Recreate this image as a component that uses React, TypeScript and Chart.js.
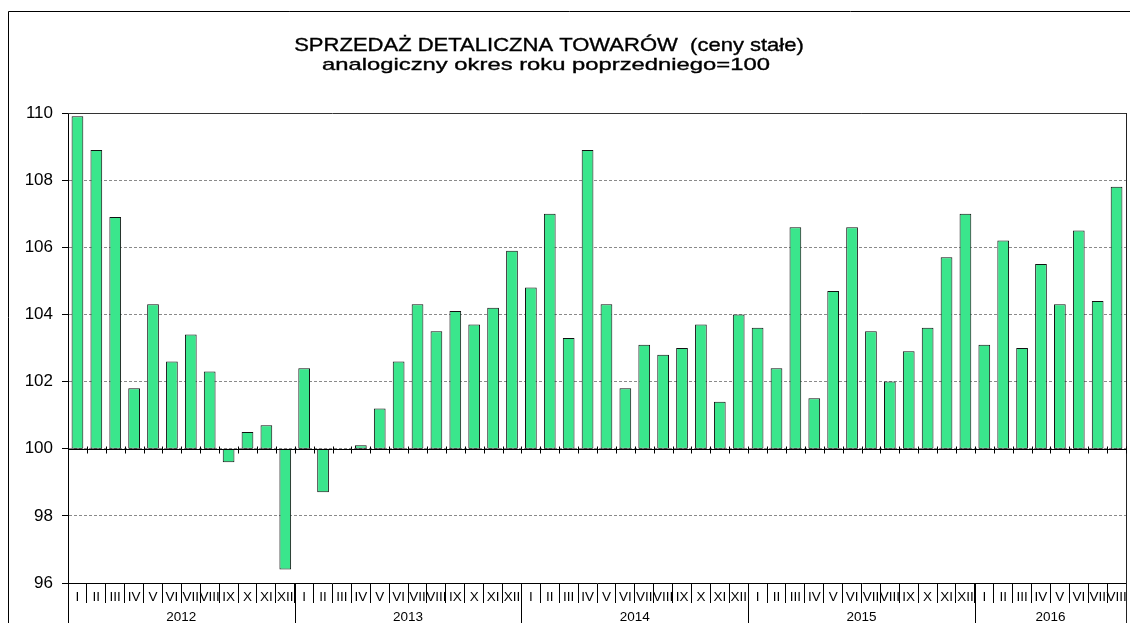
import React, { useEffect, useRef } from "react";
import { Chart, registerables } from "chart.js";

Chart.register(...registerables);

const monthLabels = ["I", "II", "III", "IV", "V", "VI", "VII", "VIII", "IX", "X", "XI", "XII"];
const years = ["2012", "2013", "2014", "2015", "2016"];

const values2012 = [109.9, 108.9, 106.9, 101.8, 104.3, 102.6, 103.4, 102.3, 99.6, 100.5, 100.7, 96.4];
const values2013 = [102.4, 98.7, 100.0, 100.1, 101.2, 102.6, 104.3, 103.5, 104.1, 103.7, 104.2, 105.9];
const values2014 = [104.8, 107.0, 103.3, 108.9, 104.3, 101.8, 103.1, 102.8, 103.0, 103.7, 101.4, 104.0];
const values2015 = [103.6, 102.4, 106.6, 101.5, 104.7, 106.6, 103.5, 102.0, 102.9, 103.6, 105.7, 107.0];
const values2016 = [103.1, 106.2, 103.0, 105.5, 104.3, 106.5, 104.4, 107.8];

const yearValues = [values2012, values2013, values2014, values2015, values2016];
const baseValue = 100;
const yMin = 96;
const yMax = 110;
const yStep = 2;

const titleLine1 = "SPRZEDAŻ DETALICZNA TOWARÓW  (ceny stałe)";
const titleLine2 = "analogiczny okres roku poprzedniego=100";

const FONT = "'Liberation Sans', Arial, Helvetica, sans-serif";

export default function App() {
  const canvasRef = useRef<HTMLCanvasElement | null>(null);

  useEffect(() => {
    const canvas = canvasRef.current;
    if (!canvas) return;

    const allValues: number[] = [];
    const labels: string[] = [];
    const yearSpans: { label: string; start: number; count: number }[] = [];
    yearValues.forEach((arr, yi) => {
      yearSpans.push({ label: years[yi], start: allValues.length, count: arr.length });
      arr.forEach((v, mi) => {
        allValues.push(v);
        labels.push(monthLabels[mi]);
      });
    });

    const drawStretched = (ctx: any, text: string, cx: number, base: number, sx: number) => {
      ctx.save();
      ctx.translate(cx, base);
      ctx.scale(sx, 1);
      ctx.fillText(text, 0, 0);
      ctx.lineWidth = 0.35;
      ctx.strokeStyle = "#000";
      ctx.strokeText(text, 0, 0);
      ctx.restore();
    };

    const decorPlugin = {
      id: "decor",
      beforeDraw(chart: any) {
        const ctx = chart.ctx;
        ctx.save();
        ctx.fillStyle = "#ffffff";
        ctx.fillRect(0, 0, chart.width, chart.height);
        ctx.restore();
      },
      afterDraw(chart: any) {
        const ctx = chart.ctx;
        const xs = chart.scales.x;
        const ys = chart.scales.y;
        const area = chart.chartArea;
        const n = labels.length;
        const w = xs.getPixelForValue(1) - xs.getPixelForValue(0);
        const boundary = (i: number) => xs.getPixelForValue(i) - w / 2;

        ctx.save();
        // outer frame
        ctx.strokeStyle = "#000";
        ctx.lineWidth = 1;
        ctx.beginPath();
        ctx.moveTo(8.5, chart.height + 2);
        ctx.lineTo(8.5, 11.5);
        ctx.lineTo(chart.width + 2, 11.5);
        ctx.stroke();

        // top line at max
        const yTop = Math.round(ys.getPixelForValue(yMax)) + 0.5;
        ctx.strokeStyle = "#333";
        ctx.beginPath();
        ctx.moveTo(area.left, yTop);
        ctx.lineTo(area.right, yTop);
        ctx.stroke();

        // right border
        const xr = Math.round(area.right) + 0.5;
        ctx.strokeStyle = "#222";
        ctx.beginPath();
        ctx.moveTo(xr, area.top);
        ctx.lineTo(xr, chart.height + 2);
        ctx.stroke();

        // base line at 100 with ticks
        const y100 = Math.round(ys.getPixelForValue(baseValue)) + 0.5;
        ctx.strokeStyle = "#000";
        ctx.beginPath();
        ctx.moveTo(area.left, y100);
        ctx.lineTo(area.right, y100);
        for (let i = 0; i <= n; i++) {
          const bx = Math.round(boundary(i)) + 0.5;
          ctx.moveTo(bx, y100 - 3);
          ctx.lineTo(bx, y100 + 4);
        }
        ctx.stroke();

        // year separators + labels
        ctx.strokeStyle = "#000";
        ctx.beginPath();
        yearSpans.forEach((sp) => {
          const bx = Math.round(boundary(sp.start)) + 0.5;
          ctx.moveTo(bx, area.bottom);
          ctx.lineTo(bx, chart.height + 2);
        });
        ctx.stroke();

        ctx.fillStyle = "#000";
        ctx.font = `13.5px ${FONT}`;
        ctx.textAlign = "center";
        ctx.textBaseline = "alphabetic";
        yearSpans.forEach((sp) => {
          const x0 = boundary(sp.start);
          const x1 = boundary(sp.start + sp.count);
          ctx.fillText(sp.label, (x0 + x1) / 2, 621);
        });

        // title
        ctx.font = `18.5px ${FONT}`;
        drawStretched(ctx, titleLine1, 549, 51, 1.19);
        ctx.font = `17px ${FONT}`;
        drawStretched(ctx, titleLine2, 546, 70, 1.4);

        ctx.restore();
      },
    };

    const chart = new Chart(canvas, {
      type: "bar",
      data: {
        labels,
        datasets: [
          {
            data: allValues.map((v) => [baseValue, v]) as any,
            backgroundColor: "#3ae68c",
            borderColor: "#111",
            borderWidth: 1,
            borderSkipped: false,
            barPercentage: 0.62,
            categoryPercentage: 1,
          },
        ],
      },
      options: {
        responsive: false,
        animation: false,
        layout: { padding: { top: 113, right: 4, bottom: 0, left: 0 } },
        plugins: {
          legend: { display: false },
          tooltip: { enabled: false },
          title: { display: false },
        },
        scales: {
          x: {
            offset: true,
            grid: {
              offset: true,
              drawOnChartArea: false,
              drawTicks: true,
              tickLength: 20,
              tickColor: "#000",
              tickWidth: 1,
            },
            border: { display: true, color: "#000", width: 1 },
            ticks: {
              autoSkip: false,
              maxRotation: 0,
              minRotation: 0,
              color: "#000",
              padding: -14,
              font: { family: FONT, size: 13.5 },
            },
            afterFit: (s: any) => {
              s.height = 40;
            },
          },
          y: {
            min: yMin,
            max: yMax,
            ticks: {
              stepSize: yStep,
              color: "#000",
              padding: 9,
              font: { family: FONT, size: 17 },
            },
            grid: {
              color: "#8a8a8a",
              lineWidth: 1,
              drawTicks: true,
              tickLength: 6,
              tickColor: "#000",
            },
            border: { display: true, color: "#000", width: 1, dash: [3, 2] },
            afterFit: (s: any) => {
              s.width = 68;
            },
          },
        },
      },
      plugins: [decorPlugin],
    });

    return () => {
      chart.destroy();
    };
  }, []);

  return (
    <div style={{ position: "absolute", left: 0, top: 0, width: 1130, height: 623, background: "#fff" }}>
      <canvas ref={canvasRef} width={1130} height={623} style={{ display: "block" }} />
    </div>
  );
}
